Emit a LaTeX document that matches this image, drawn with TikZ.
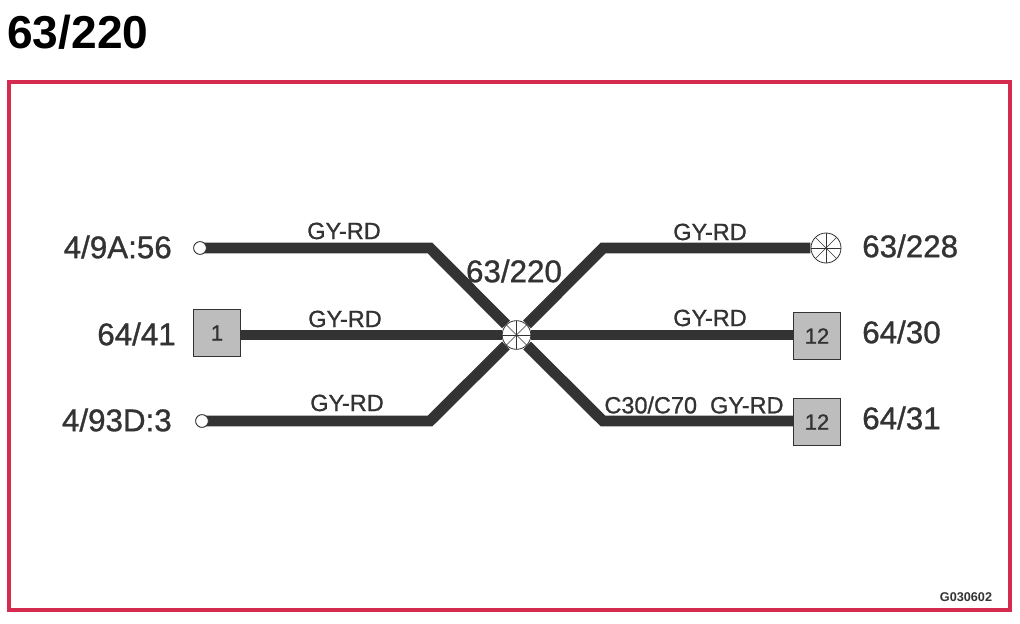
\documentclass[tikz,border=0pt]{standalone}
\usepackage{fontspec}
\setmainfont{Liberation Sans}
\newfontfamily\heavyfont[FakeBold=1]{Liberation Sans}
\definecolor{wirecol}{HTML}{333333}
\definecolor{framecol}{HTML}{D62B50}
\definecolor{boxcol}{HTML}{BDBDBD}
\tikzset{
	wire/.style={draw=wirecol,line width=8.2pt,miter limit=10},
	spliceblob/.style={circle,draw=wirecol,fill=white,line width=0.6pt,minimum size=21.5pt,outer sep=0.4pt,
		path picture={
			\foreach \ang in {0,45,90,135}
				\draw [wirecol,line width=0.5pt] (path picture bounding box.center) ++(\ang:12pt) -- ++(\ang+180:24pt);
		}},
	endring/.style={circle,draw=wirecol,fill=white,line width=0.6pt,minimum size=9.5pt},
	connbox/.style={rectangle,draw=wirecol,fill=boxcol,line width=0.7pt,minimum size=35.5pt,text=wirecol,font=\heavyfont\fontsize{16.5}{17}\selectfont},
	wirelabel/.style={text=wirecol,font=\heavyfont\fontsize{17.6}{18}\selectfont},
	pinlabel/.style={text=wirecol,font=\heavyfont\fontsize{23.5}{24}\selectfont}
}
\begin{document}
\begin{tikzpicture}[x=0.75pt,y=-0.75pt]
	\tikzstyle{every node}+=[inner sep=0pt]
	\useasboundingbox (0,0) rectangle (1020,624);
	\node [anchor=west,font=\fontsize{34.6}{35}\selectfont\bfseries] (title) at (7,32) {63/220};
	\node [draw=framecol,line width=3pt,minimum width=750.75pt,minimum height=396pt] (frame) at (509.5,346) {};
	% wires
	\node [spliceblob] (hub) at (516.5,335) {};
	\coordinate (bendA) at (430,248);
	\coordinate (bendB) at (430,421);
	\coordinate (bendC) at (603,248);
	\coordinate (bendD) at (603,421);
	\node [endring] (endA) at (200,248) {};
	\node [endring] (endB) at (202,421) {};
	\node [connbox] (boxL) at (217,333) {1};
	\node [connbox] (boxR) at (817,336) {12};
	\node [connbox] (boxS) at (817,422) {12};
	\node [spliceblob,minimum size=22.5pt] (farhub) at (826,248) {};
	\coordinate (boxLw) at (boxL.east |- hub);
	\coordinate (boxRw) at (boxR.west |- hub);
	\draw [wire] (endA.center) -- (bendA) -- (hub);
	\draw [wire] (endB.center) -- (bendB) -- (hub);
	\draw [wire] (boxLw) -- (hub);
	\draw [wire] (boxRw) -- (hub);
	\draw [wire] (farhub) -- (bendC) -- (hub);
	\draw [wire] (boxS.west |- bendD) -- (bendD) -- (hub);
	\node [endring] at (endA) {};
	\node [endring] at (endB) {};
	% wire colours
	\node [wirelabel] (wireA) at (344,231) {GY-RD};
	\node [wirelabel] (wireB) at (345,319) {GY-RD};
	\node [wirelabel] (wireC) at (347,403) {GY-RD};
	\node [wirelabel] (wireD) at (710,232) {GY-RD};
	\node [wirelabel] (wireE) at (710,318) {GY-RD};
	\node [wirelabel] (wireF) at (694,405) {C30/C70\ \ GY-RD};
	% pins
	\node [pinlabel,anchor=east] (pinA) at (172,247) {4/9A:56};
	\node [pinlabel,anchor=east] (pinB) at (176,334) {64/41};
	\node [pinlabel,anchor=east] (pinC) at (172,420) {4/93D:3};
	\node [pinlabel,anchor=west] (pinD) at (862,246) {63/228};
	\node [pinlabel,anchor=west] (pinE) at (862,332) {64/30};
	\node [pinlabel,anchor=west] (pinF) at (862,418) {64/31};
	\node [pinlabel] (hublabel) at (514,271) {63/220};
	\node [text=wirecol,font=\fontsize{9.5}{10}\selectfont\bfseries] (code) at (966,597) {G030602};
\end{tikzpicture}
\end{document}
